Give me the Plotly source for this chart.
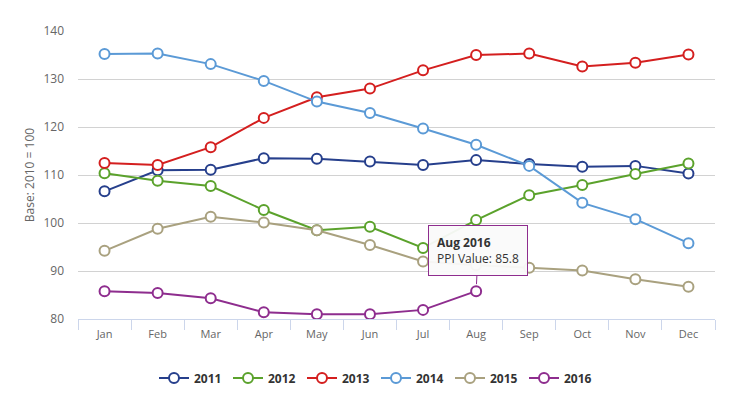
import plotly.graph_objects as go

months = ["Jan", "Feb", "Mar", "Apr", "May", "Jun", "Jul", "Aug", "Sep", "Oct", "Nov", "Dec"]

ppi_2011 = [106.6, 111.0, 111.1, 113.5, 113.4, 112.8, 112.1, 113.1, 112.3, 111.7, 111.9, 110.3]
ppi_2012 = [110.35, 108.8, 107.7, 102.7, 98.5, 99.2, 94.8, 100.6, 105.8, 107.9, 110.2, 112.4]
ppi_2013 = [112.5, 112.1, 115.8, 121.9, 126.2, 128.0, 131.8, 135.0, 135.3, 132.6, 133.4, 135.1]
ppi_2014 = [135.2, 135.3, 133.1, 129.6, 125.3, 122.9, 119.7, 116.3, 111.9, 104.2, 100.8, 95.8]
ppi_2015 = [94.2, 98.8, 101.3, 100.1, 98.5, 95.4, 92.0, 91.2, 90.7, 90.1, 88.3, 86.7]
ppi_2016 = [85.8, 85.4, 84.3, 81.4, 81.0, 81.0, 81.9, 85.8]

series = [
    ("2011", ppi_2011, "#263f8c"),
    ("2012", ppi_2012, "#5ba22c"),
    ("2013", ppi_2013, "#d41f1f"),
    ("2014", ppi_2014, "#5b9ad6"),
    ("2015", ppi_2015, "#a9a17f"),
    ("2016", ppi_2016, "#8e2d8e"),
]

tooltip_month = "Aug"
tooltip_year = "2016"
tooltip_value = 85.8

fig = go.Figure()
for name, vals, color in series:
    fig.add_trace(go.Scatter(
        x=months[:len(vals)], y=vals, name=name, mode="lines+markers",
        line=dict(color=color, width=2),
        marker=dict(symbol="circle", size=10, color="white",
                    line=dict(color=color, width=2)),
    ))

fig.add_annotation(
    x=tooltip_month, y=tooltip_value,
    text=f"<b>{tooltip_month} {tooltip_year}</b><br>PPI Value: {tooltip_value}",
    showarrow=True, arrowhead=0, arrowwidth=1, arrowcolor="#8e2d8e",
    ax=2, ay=-41, standoff=7,
    align="left", bgcolor="rgba(250,250,250,0.95)", bordercolor="#8e2d8e",
    borderwidth=1, borderpad=8,
    font=dict(family="Open Sans", size=12, color="#333333"),
)

fig.update_layout(
    width=736, height=394,
    margin=dict(l=70, r=29, t=23, b=83, autoexpand=False),
    paper_bgcolor="white", plot_bgcolor="white",
    font=dict(family="Open Sans", color="#666666"),
    showlegend=True,
    legend=dict(orientation="h", x=0.5, xanchor="center", xref="container",
                y=0.061, yanchor="middle", yref="container",
                font=dict(family="Open Sans", size=12, color="#333333", weight="bold"),
                entrywidth=29, entrywidthmode="pixels", itemwidth=30),
    xaxis=dict(
        type="category", categoryorder="array", categoryarray=months,
        range=[-0.5, 11.5], tickson="boundaries", ticks="outside", ticklen=10,
        tickcolor="#ccd6eb", showline=True, linecolor="#ccd6eb", linewidth=1,
        showgrid=False, tickfont=dict(size=11, color="#666666"), zeroline=False,
        ticklabelstandoff=5,
    ),
    yaxis=dict(
        range=[80, 140], dtick=10, showgrid=True, gridcolor="#d2d2d2", gridwidth=1,
        zeroline=False, showline=False, ticks="", ticklabelstandoff=13,
        tickfont=dict(size=12, color="#666666"),
        title=dict(text="Base: 2010 = 100", font=dict(size=12, color="#666666"), standoff=6),
    ),
)

fig.write_html("out.html")
